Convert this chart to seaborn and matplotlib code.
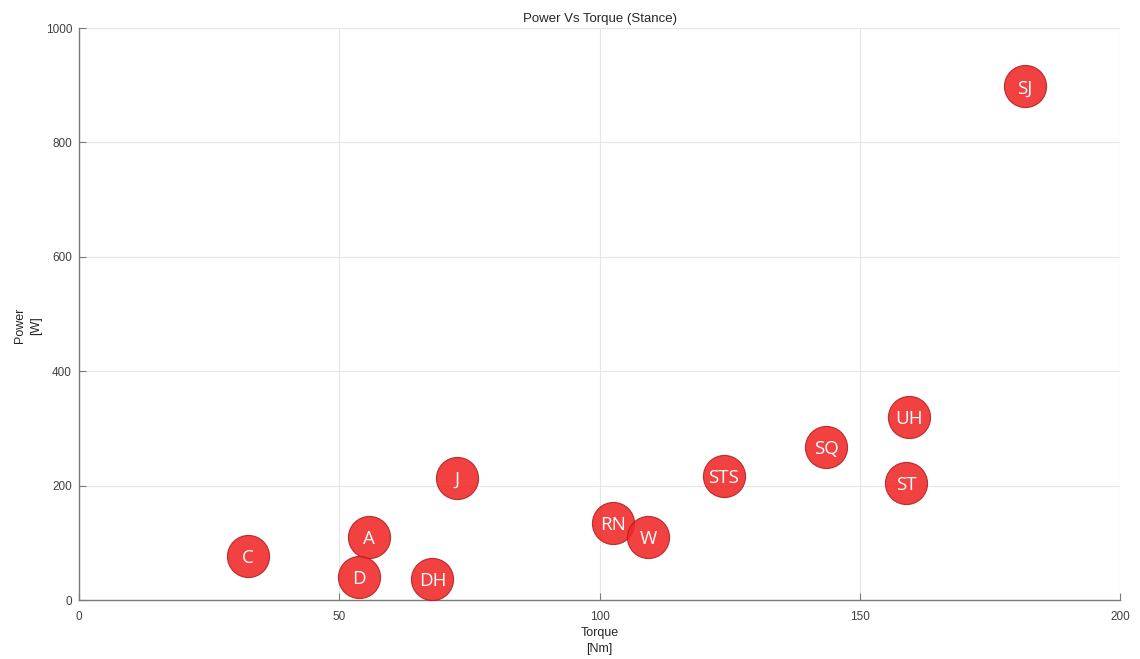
import matplotlib
matplotlib.use("Agg")
import matplotlib.pyplot as plt
import seaborn as sns
import pandas as pd

# Activity labels with peak torque [Nm] and power [W] during stance
activities = ["C", "A", "D", "DH", "J", "RN", "W", "STS", "SQ", "UH", "ST", "SJ"]
torque = [32.4, 55.7, 53.8, 67.9, 72.6, 102.6, 109.4, 123.9, 143.5, 159.4, 158.9, 181.7]
power = [77, 111, 40, 37, 214, 134, 110, 216, 267, 320, 205, 898]

x_ticks = [0, 50, 100, 150, 200]
y_ticks = [0, 200, 400, 600, 800, 1000]

df = pd.DataFrame({"Activity": activities, "Torque": torque, "Power": power})

sns.set_theme(style="white")
plt.rcParams["font.family"] = ["Liberation Sans", "DejaVu Sans"]

fig = plt.figure(figsize=(11.4, 6.59), dpi=100)
ax = fig.add_axes([0.0693, 0.0895, 0.9132, 0.868])

sns.scatterplot(data=df, x="Torque", y="Power", ax=ax, s=920,
                color="#f02626", alpha=0.88, edgecolor="#b02020", linewidth=0.8,
                zorder=3, legend=False)

for name, tx, pw in zip(df["Activity"], df["Torque"], df["Power"]):
    ax.text(tx, pw, name, ha="center", va="center_baseline", color="white",
            fontsize=13.5, family=["Open Sans", "DejaVu Sans"], zorder=4)

ax.set_xlim(x_ticks[0], x_ticks[-1])
ax.set_ylim(y_ticks[0], y_ticks[-1])
ax.set_xticks(x_ticks)
ax.set_yticks(y_ticks)
ax.grid(True, color="#e6e6e6", linewidth=0.8, zorder=0)
ax.set_axisbelow(True)

for side in ["top", "right"]:
    ax.spines[side].set_visible(False)
for side in ["left", "bottom"]:
    ax.spines[side].set_color("#7a7a7a")
    ax.spines[side].set_linewidth(1.0)

ax.tick_params(axis="both", direction="in", length=5, width=0.8,
               color="#7a7a7a", labelsize=8.5, labelcolor="#404040",
               bottom=True, left=True)
ax.tick_params(axis="x", pad=8)
ax.tick_params(axis="y", pad=5)

ax.set_xlabel("Torque\n[Nm]", fontsize=9, color="#262626", linespacing=1.5)
ax.xaxis.set_label_coords(0.5, -0.047, transform=ax.transAxes)
ax.xaxis.label.set_va("top")
ax.set_ylabel("Power\n[W]", fontsize=9, color="#262626", linespacing=1.5)
ax.yaxis.set_label_coords(-0.049, 0.48, transform=ax.transAxes)
ax.yaxis.label.set_va("center")
ax.set_title("Power Vs Torque (Stance)", fontsize=9.5, color="#262626", pad=4)

fig.savefig("out.png", dpi=100)
